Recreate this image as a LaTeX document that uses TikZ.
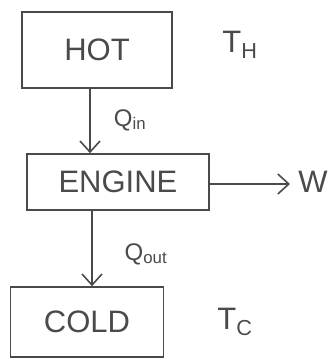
\documentclass[tikz,border=0pt]{standalone}
\usepackage{fontspec}
\setmainfont{Liberation Sans}
\usetikzlibrary{arrows.meta}
\definecolor{pencil}{HTML}{4A4A4A}
\begin{document}
\begin{tikzpicture}[x=1pt,y=-1pt,
  box/.style={draw=pencil,line width=1.6pt,inner sep=0pt},
  lbl/.style={text=pencil,font=\fontsize{31}{31}\selectfont},
  small/.style={text=pencil,font=\fontsize{24}{24}\selectfont},
  flow/.style={draw=pencil,line width=1.6pt,-{Straight Barb[length=11pt,width=20pt,line width=1.6pt]}}]
\useasboundingbox (0,0) rectangle (330,360);
\node[box,minimum width=150pt,minimum height=76pt] (hot) at (97,50) {};
\node[lbl] (hotl) at (hot.center) {HOT};
\node[box,minimum width=182pt,minimum height=56pt] (eng) at (118,182) {};
\node[lbl] (engl) at (eng.center) {ENGINE};
\node[box,minimum width=153pt,minimum height=70pt] (cold) at (87,322) {};
\node[lbl] (coldl) at (cold.center) {COLD};
\node[lbl] (th) at (240,45) {T\textsubscript{H}};
\node[lbl] (tc) at (235,322) {T\textsubscript{C}};
\node[lbl] (w) at (313,182) {W};
\coordinate (wend) at (290,184);
\node[small] (qin) at (130,120) {Q\textsubscript{in}};
\node[small] (qout) at (146,254) {Q\textsubscript{out}};
\draw[flow] (hot.south -| 90,0) -- (eng.north -| 90,0);
\draw[flow] (eng.south -| 92,0) -- (cold.north -| 92,0);
\draw[flow] (eng.east |- 0,184) -- (wend);
\end{tikzpicture}
\end{document}
